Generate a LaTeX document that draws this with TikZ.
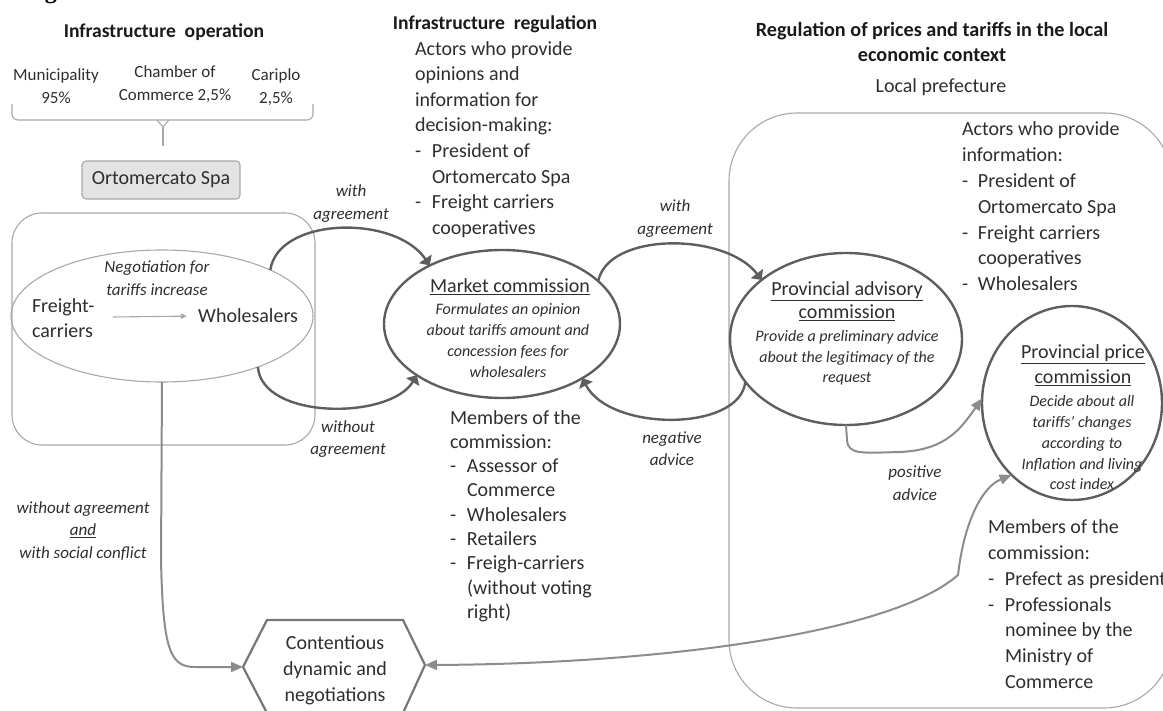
\documentclass[tikz,border=0pt]{standalone}
\usepackage{fontspec}
\setmainfont{Carlito}
\newfontfamily\serifcut{Liberation Serif}
\usetikzlibrary{arrows.meta,shapes.geometric}
\definecolor{txt}{HTML}{2E2E2E}
\definecolor{hd}{HTML}{1A1A1A}
\definecolor{dk}{HTML}{5E5E5E}
\definecolor{md}{HTML}{8C8C8C}
\definecolor{lt}{HTML}{A8A8A8}
\definecolor{boxfill}{HTML}{E3E3E3}
\newcommand\litem{\makebox[17pt][l]{-}}
\newcommand\lind{\hspace*{17pt}}
\begin{document}
\begin{tikzpicture}[x=1pt,y=-1pt,
  every node/.style={text=txt},
  body/.style={inner sep=0pt, outer sep=0pt, align=left, anchor=north west, font=\fontsize{20}{#1}\selectfont},
  cbody/.style={inner sep=0pt, outer sep=0pt, align=center, anchor=north, font=\fontsize{20}{#1}\selectfont},
  share/.style={inner sep=0pt, outer sep=0pt, align=center, anchor=north, font=\fontsize{17}{23}\selectfont},
  head/.style={inner sep=0pt, outer sep=0pt, align=center, text=hd, font=\bfseries\fontsize{#1}{25}\selectfont},
  lbl/.style={inner sep=0pt, outer sep=0pt, align=center, anchor=north, font=\itshape\fontsize{17}{#1}\selectfont},
  desc/.style={inner sep=0pt, outer sep=0pt, align=center, anchor=north, font=\itshape\fontsize{16}{#1}\selectfont},
  ell/.style={draw=dk, line width=2.4pt, ellipse, inner sep=0pt, outer sep=0pt},
  thinell/.style={draw=lt, line width=1.1pt, ellipse, inner sep=0pt, outer sep=0pt},
  frame/.style={draw=lt, line width=1.1pt},
  darr/.style={draw=dk, line width=2.4pt, -{Triangle[width=15pt,length=8pt]}},
  marr/.style={draw=md, line width=2pt, -{Triangle[width=10pt,length=12pt]}},
  barr/.style={draw=md, line width=2pt, {Triangle[width=10pt,length=12pt]}-{Triangle[width=10pt,length=12pt]}},
  hexs/.style={draw=dk!85, line width=2.2pt}
]
\useasboundingbox (0,0) rectangle (1163,711);
\clip (0,0) rectangle (1163,711);

% cut-off caption glyph
\node[inner sep=0pt, anchor=base, font=\serifcut\bfseries\fontsize{24}{28}\selectfont, text=black] (capg) at (51,-1) {g};

% headings
\node[head=19.6, anchor=base] (h1) at (164,38) {Infrastructure\ \ operation};
\node[head=19.6, anchor=base] (h2) at (495,30) {Infrastructure\ \ regulation};
\node[head=20.2, anchor=north] (h3) at (932,19.5) {\strut Regulation of prices and tariffs in the local\\economic context};
\node[inner sep=0pt, anchor=base, font=\fontsize{20}{26}\selectfont] (pref) at (941,93) {Local prefecture};

% shareholders
\node[share] (mun) at (56,64.9) {\strut Municipality\\95\%};
\node[share] (cham) at (175,61) {\strut Chamber of\\Commerce 2,5\%};
\node[share] (cari) at (276,64.9) {\strut Cariplo\\2,5\%};
\draw[frame, rounded corners=6] (12,104) -- (12,120) -- (313,120) -- (313,104);
\draw[frame] (157,120) -- (163,127) -- (169,120);
\draw[frame] (163,127) -- (163,146);

% Ortomercato
\node[draw=lt, line width=1.1pt, fill=boxfill, rounded corners=4pt, minimum width=158pt, minimum height=38pt, inner sep=0pt, font=\fontsize{20}{26}\selectfont] (orto) at (161,180) {Ortomercato Spa};

% frames
\draw[frame, rounded corners=30] (12,213) rectangle (315,445);
\draw[frame, rounded corners=68] (729,113) rectangle (1172,708);

% freight ellipse
\node[thinell, minimum width=302pt, minimum height=132pt] (fw) at (162,316) {};
\node[lbl=23] (neg1) at (157,256.9) {\strut Negotiation for\\tariffs increase};
\node[body=25] (fc) at (32,295.5) {\strut Freight-\\carriers};
\node[inner sep=0pt, anchor=base west, font=\fontsize{20}{26}\selectfont] (ws) at (198,323) {Wholesalers};
\draw[draw=lt, line width=1.1pt, -{Triangle[width=5pt,length=6pt]}] (113,317) -- ([xshift=-11pt]ws.west);

% commission ellipses
\node[ell, minimum width=236pt, minimum height=148pt] (mc) at (502,324) {};
\node[inner sep=0pt, anchor=base, font=\fontsize{20}{26}\selectfont] (mct) at (510,293) {\underline{Market commission}};
\node[desc=20.7] (mcd) at (508,300.5) {\strut Formulates an opinion\\about tariffs amount and\\concession fees for\\wholesalers};

\node[ell, minimum width=232pt, minimum height=172pt] (pa) at (846,339) {};
\node[cbody=23] (pat) at (847,279.9) {\strut\underline{Provincial advisory}\\\underline{commission}};
\node[desc=20.5] (pad) at (847,327.6) {\strut Provide a preliminary advice\\about the legitimacy of the\\request};

\node[ell, minimum width=180pt, minimum height=194pt] (pp) at (1072,403) {};
\node[cbody=25] (ppt) at (1083,341.5) {\strut\underline{Provincial price}\\\underline{commission}};
\node[desc=20.7] (ppd) at (1082,392.5) {\strut Decide about all\\tariffs’ changes\\according to\\Inflation and living\\cost index};

% text columns
\node[body=25.6] (act1) at (415,37.1) {\strut Actors who provide\\opinions and\\information for\\decision-making:\\\litem President of\\\lind Ortomercato Spa\\\litem Freight carriers\\\lind cooperatives};
\node[body=24.3] (mem1) at (450,407) {\strut Members of the\\commission:\\\litem Assessor of\\\lind Commerce\\\litem Wholesalers\\\litem Retailers\\\litem Freigh-carriers\\\lind (without voting\\\lind right)};
\node[body=25.8] (act2) at (962,117.9) {\strut Actors who provide\\information:\\\makebox[16pt][l]{-}President of\\\hspace*{16pt}Ortomercato Spa\\\makebox[16pt][l]{-}Freight carriers\\\hspace*{16pt}cooperatives\\\makebox[16pt][l]{-}Wholesalers};
\node[body=25.7] (mem2) at (988,516) {\strut Members of the\\commission:\\\litem Prefect as president\\\litem Professionals\\\lind nominee by the\\\lind Ministry of\\\lind Commerce};

% hexagon
\draw[hexs] (243,667) -- (267,620) -- (403,620) -- (425,665) -- (403,713) -- (267,713) -- cycle;
\coordinate (hexL) at (243,667);
\coordinate (hexR) at (425,665);
\node[cbody=26] (hext) at (335,630.8) {\strut Contentious\\dynamic and\\negotiations};

% labels
\node[lbl=23] (l1) at (351,180.9) {\strut with\\agreement};
\node[lbl=23] (l2) at (348,415.9) {\strut without\\agreement};
\node[lbl=23] (l3) at (675,195.9) {\strut with\\agreement};
\node[lbl=22] (l4) at (672,427.6) {\strut negative\\advice};
\node[lbl=23] (l5) at (915,461) {\strut positive\\advice};
\node[lbl=22.5] (l6) at (83,497.3) {\strut without agreement\\\underline{and}\\with social conflict};

% connectors
\draw[darr] (fw.23) .. controls (278,217) and (395,214) .. (mc.141);
\draw[darr] (fw.-28) .. controls (262,420) and (390,420) .. (mc.211);
\draw[darr] (mc.24) .. controls (608,232) and (725,232) .. (pa.145);
\draw[darr] (pa.203) .. controls (740,432) and (610,432) .. (mc.-34);
\draw[marr] (pa.south) -- (847,440) .. controls (848,455) and (862,453) .. (900,452) .. controls (945,450) and (960,430) .. (pp.177);
\draw[marr] (fw.south) -- (161,560) .. controls (163,650) and (170,667) .. (195,667) -- (hexL);
\draw[barr] (hexR) .. controls (650,664) and (890,635) .. (958,575) .. controls (964,522) and (982,487) .. (pp.230);
\end{tikzpicture}
\end{document}
